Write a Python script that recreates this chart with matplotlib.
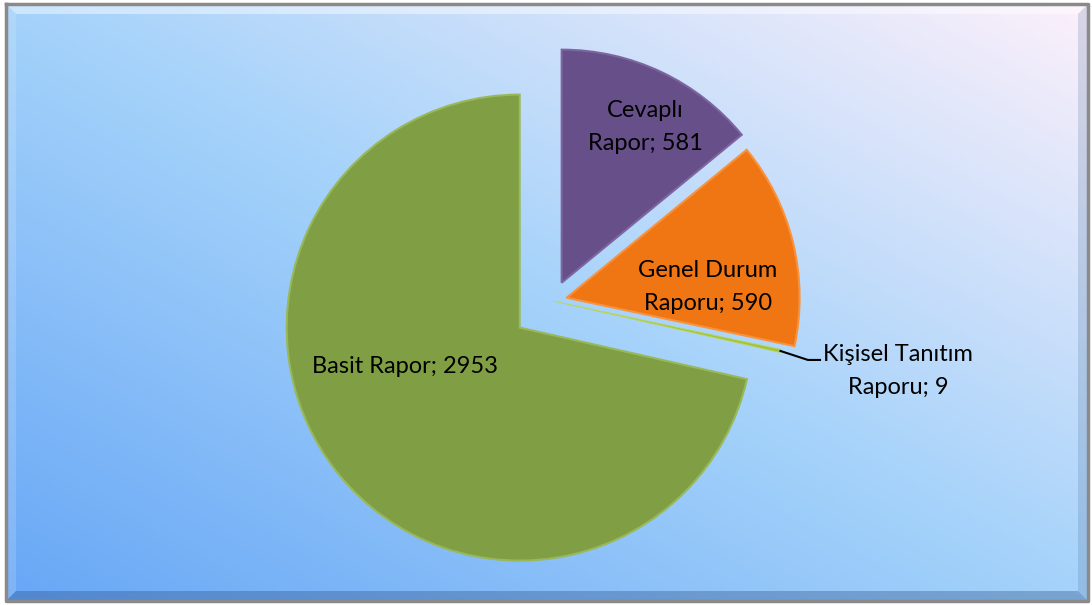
import numpy as np
import matplotlib
matplotlib.use('Agg')
import matplotlib.pyplot as plt
from matplotlib.colors import LinearSegmentedColormap

plt.rcParams['font.family'] = ['Lato', 'DejaVu Sans']

labels = ['Cevaplı Rapor', 'Genel Durum Raporu', 'Kişisel Tanıtım Raporu', 'Basit Rapor']
values = [581, 590, 9, 2953]
colors = ['#67508a', '#f07614', '#a3c43a', '#809f45']
edges = ['#7d66a0', '#f8923c', '#b9d65a', '#98b85a']
explode = [0.087, 0.06, 0.0, 0.183]
label_text = ['Cevaplı\nRapor; 581', 'Genel Durum\nRaporu; 590', 'Kişisel Tanıtım\nRaporu; 9', 'Basit Rapor; 2953']
label_pos = [(0.395, 0.747), (0.665, 0.06), (1.481, -0.30), (-0.635, -0.279)]

W, H = 1092, 605
fig = plt.figure(figsize=(W / 100, H / 100), dpi=100)
fig.patch.set_facecolor('white')

# background with diagonal gradient and bevelled frame
bg = fig.add_axes([0, 0, 1, 1])
bg.set_xlim(0, W)
bg.set_ylim(H, 0)
bg.axis('off')
x0, x1, y0, y1 = 6, 1088, 4, 601
u = np.linspace(0, 1, 300)
v = np.linspace(1, 0, 200)
uu, vv = np.meshgrid(u, v)
t = (uu + vv) / 2
cmap = LinearSegmentedColormap.from_list('bg', ['#68a7f6', '#a4d2fa', '#fcf0fb'])
bg.imshow(t, cmap=cmap, extent=[x0, x1, y1, y0], aspect='auto', vmin=0, vmax=1)
b = 10
bg.fill([x0, x1, x1 - b, x0 + b], [y0, y0, y0 + b, y0 + b], color='white', alpha=0.45, lw=0)
bg.fill([x0, x0 + b, x0 + b, x0], [y0, y0 + b, y1 - b, y1], color='white', alpha=0.15, lw=0)
bg.fill([x1, x1 - b, x1 - b, x1], [y0, y0 + b, y1 - b, y1], color='#3a5a8a', alpha=0.18, lw=0)
bg.fill([x0, x1, x1 - b, x0 + b], [y1, y1, y1 - b, y1 - b], color='#2a4f86', alpha=0.35, lw=0)
bg.plot([x0, x1, x1, x0, x0], [y0, y0, y1, y1, y0], color='#8a8a8a', lw=2.5)

# pie axes: one data unit = 233 px, pie centre at pixel (553, 301)
cx, cy, R = 553, 301, 233
ax = fig.add_axes([0, 0, 1, 1])

wedges, _ = ax.pie(values, colors=colors, explode=explode, startangle=90,
                   counterclock=False, radius=1,
                   wedgeprops=dict(linewidth=1.5))
for w, ec in zip(wedges, edges):
    w.set_edgecolor(ec)
wedges[2].set_linewidth(0.6)

ax.set_aspect('auto')
ax.set_xlim(-cx / R, (W - cx) / R)
ax.set_ylim((cy - H) / R, cy / R)
ax.axis('off')

for txt, (lx, ly) in zip(label_text, label_pos):
    ax.text(lx, ly, txt, ha='center', va='center', fontsize=17,
            linespacing=1.75, color='black')

# leader line for the tiny slice
k = wedges[2]
mid = np.deg2rad((k.theta1 + k.theta2) / 2)
sx, sy = k.center[0] + np.cos(mid), k.center[1] + np.sin(mid)
ax.plot([sx, 1.094, 1.146], [sy, -0.253, -0.253], color='black', lw=1.5)

fig.savefig('out.png', dpi=100)
